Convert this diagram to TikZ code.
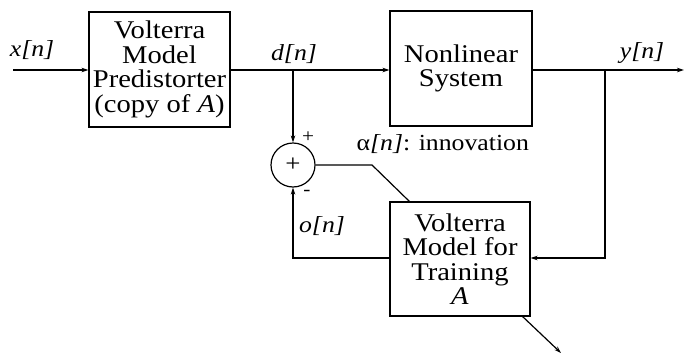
\documentclass[tikz,border=0pt]{standalone}
\usepackage{fontspec}
\setmainfont{Liberation Serif}[FakeStretch=1.12]
\usetikzlibrary{arrows.meta}
\begin{document}
\begin{tikzpicture}[x=1pt,y=-1pt,
  line width=1.2pt,
  arr/.style={-{Stealth[length=7pt,width=4.5pt]}},
  blk/.style={draw,line width=1.2pt,align=center,font=\fontsize{25.5}{24.5}\selectfont},
  lbl/.style={font=\fontsize{23}{24}\selectfont,inner sep=0pt},
  sgn/.style={font=\fontsize{19}{19}\selectfont,inner sep=0pt}]
\useasboundingbox (0,0) rectangle (684,353);
% blocks
\node[blk,minimum width=141pt,minimum height=115pt,inner sep=0pt] (pre) at (159.5,69.5)
  {Volterra\\Model\\Predistorter\\(copy of \textit{A})};
\node[blk,minimum width=142pt,minimum height=115pt,inner sep=0pt] (nl) at (461,68.5)
  {Nonlinear\\System};
\node[blk,minimum width=140pt,minimum height=114pt,inner sep=0pt] (tr) at (460,259)
  {Volterra\\Model for\\Training\\\textit{A}};
\node[draw,circle,minimum size=44pt,inner sep=0pt,line width=1.2pt,font=\fontsize{24}{24}\selectfont] (sum) at (293,165) {+};
% coordinates
\coordinate (xin) at (13,70);
\coordinate (dbr) at (293,70);
\coordinate (ybr) at (605,70);
\coordinate (yout) at (684,70);
\coordinate (ycorner) at (605,258);
\coordinate (ocorner) at (293,258);
\coordinate (ikink) at (372,165);
\coordinate (itop) at (410,202);
\coordinate (ostart) at (522,316);
\coordinate (oend) at (561,353);
% connectors
\draw[arr] (xin) -- (pre.west |- xin);
\draw[arr] (pre.east |- dbr) -- (nl.west |- dbr);
\draw[arr] (nl.east |- ybr) -- (yout);
\draw[arr] (dbr) -- (sum.north);
\draw[arr] (ybr) -- (ycorner) -- (tr.east |- ycorner);
\draw[arr] (tr.west |- ocorner) -- (ocorner) -- (sum.south);
\draw (sum.east) -- (ikink) -- (itop);
\draw[arr] (ostart) -- (oend);
% labels
\node[lbl] (lx) at (32,50) {\textit{x[n]}};
\node[lbl] (ld) at (294,54) {\textit{d[n]}};
\node[lbl] (ly) at (642,53) {\textit{y[n]}};
\node[lbl] (lo) at (322,226) {\textit{o[n]}};
\node[lbl,anchor=west] (la) at (356,144) {α\textit{[n]}: innovation};
\node[sgn] (sp) at (308,137) {+};
\node[sgn] (sm) at (307,193) {-};
\end{tikzpicture}
\end{document}
